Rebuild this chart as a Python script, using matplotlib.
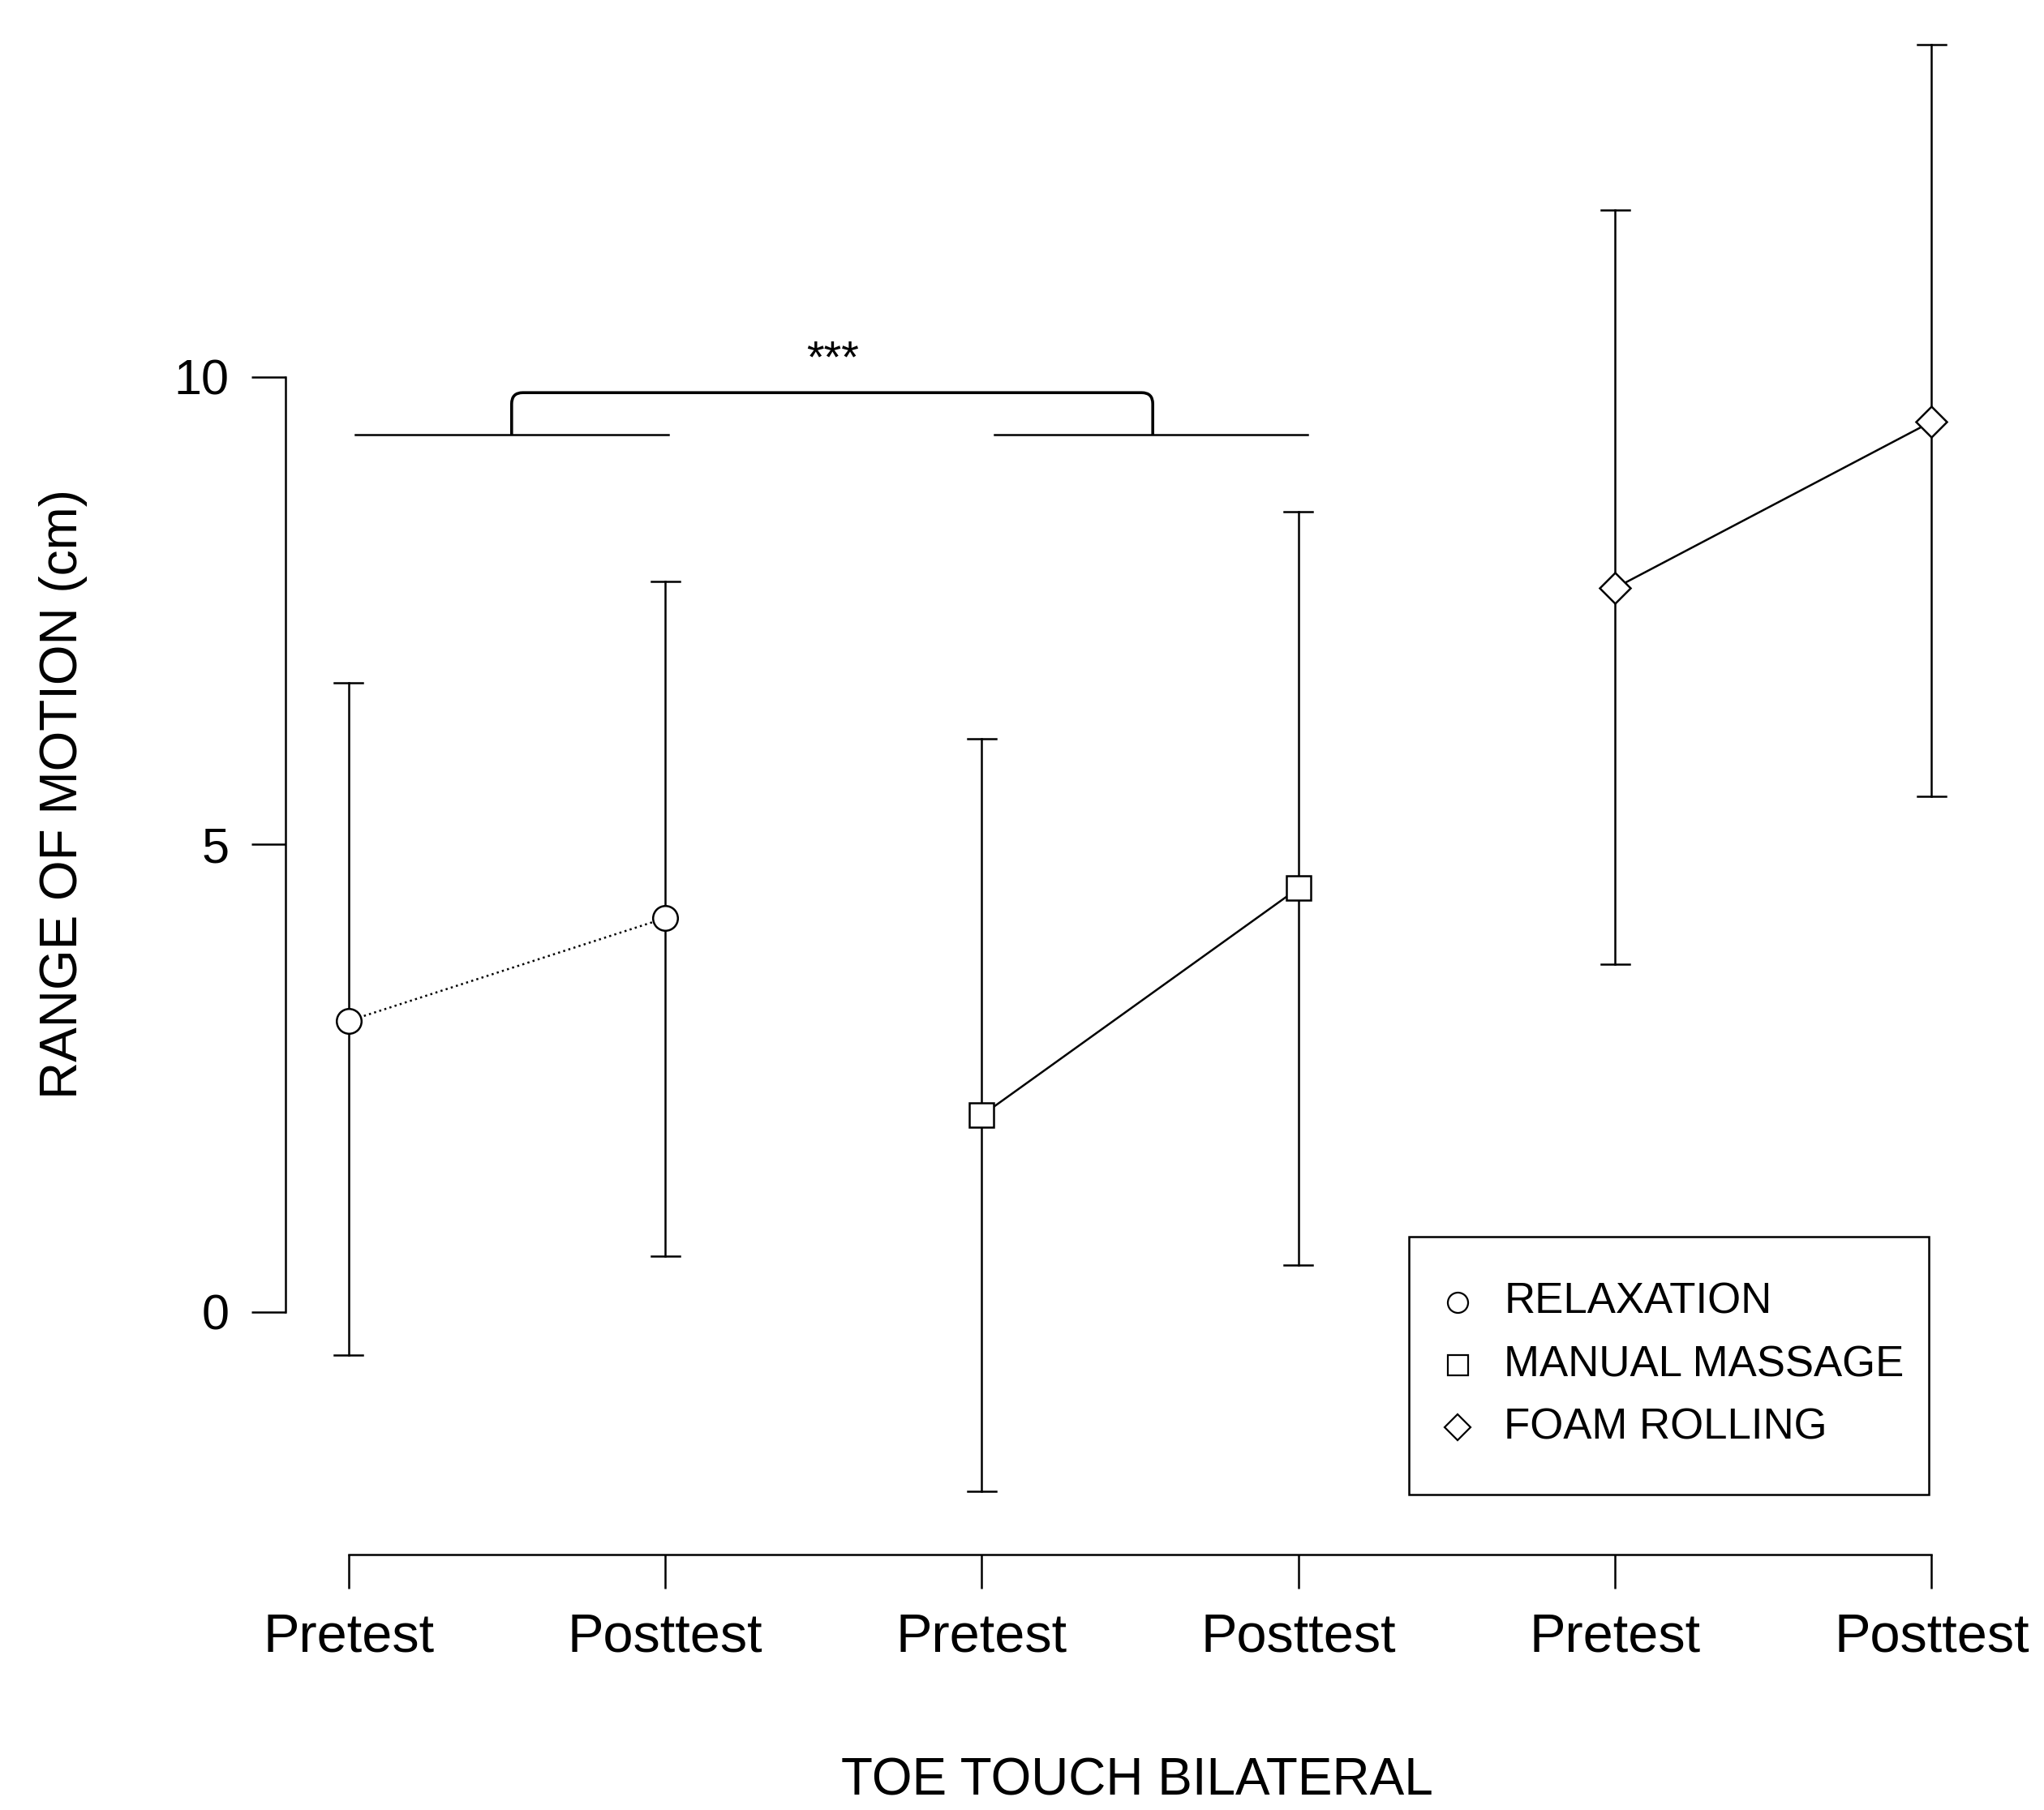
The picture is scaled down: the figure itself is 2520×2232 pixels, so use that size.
import matplotlib
matplotlib.use("Agg")
import matplotlib.pyplot as plt
from matplotlib.path import Path
from matplotlib.patches import PathPatch, Rectangle

# values
groups = ["RELAXATION", "MANUAL MASSAGE", "FOAM ROLLING"]
markers = ["o", "s", "D"]
styles = [":", "-", "-"]
pos = [[1, 2], [3, 4], [5, 6]]
means = [[3.11, 4.21], [2.10, 4.53], [7.74, 9.52]]
upper = [[6.73, 7.81], [6.13, 8.56], [11.78, 13.55]]
lower = [[-0.46, 0.59], [-1.92, 0.50], [3.72, 5.51]]
xlabels = ["Pretest", "Posttest"] * 3

plt.rcParams['font.family'] = ['Liberation Sans', 'DejaVu Sans']
fig = plt.figure(figsize=(25.2, 22.32), dpi=100)
ax = fig.add_axes([0, 0, 1, 1])
ax.set_xlim(-0.101, 6.355)
ax.set_ylim(-5.33, 14.03)
ax.patch.set_visible(False)

lw = 1.8
for g in range(3):
    for x, lo, hi in zip(pos[g], lower[g], upper[g]):
        ax.plot([x, x], [lo, hi], color="black", lw=lw)
        ax.plot([x - 0.045, x + 0.045], [hi, hi], color="black", lw=lw)
        ax.plot([x - 0.045, x + 0.045], [lo, lo], color="black", lw=lw)
    ax.plot(pos[g], means[g], color="black", lw=lw, ls=styles[g],
            marker=markers[g], ms=22 if markers[g] != "D" else 19,
            mfc="white", mec="black", mew=1.8, zorder=3)

# significance bracket
ax.plot([1.02, 2.01], [9.38, 9.38], color="black", lw=lw)
ax.plot([3.04, 4.03], [9.38, 9.38], color="black", lw=lw)
yb, yt, r = 9.38, 9.83, 0.035
xl, xr = 1.515, 3.54
verts = [(xl, yb), (xl, yt - 0.12), (xl, yt), (xl + r, yt),
         (xr - r, yt), (xr, yt), (xr, yt - 0.12), (xr, yb)]
codes = [Path.MOVETO, Path.LINETO, Path.CURVE3, Path.CURVE3,
         Path.LINETO, Path.CURVE3, Path.CURVE3, Path.LINETO]
ax.add_patch(PathPatch(Path(verts, codes), fill=False, lw=2.6, ec="black"))
ax.text(2.53, 9.95, "***", ha="center", va="bottom", fontsize=40)

# axes in R style
for s in ["top", "right"]:
    ax.spines[s].set_visible(False)
ax.spines["left"].set_position(("data", 0.801))
ax.spines["left"].set_bounds(0, 10)
ax.spines["bottom"].set_position(("data", -2.595))
ax.spines["bottom"].set_bounds(1, 6)
for s in ["left", "bottom"]:
    ax.spines[s].set_linewidth(lw)
ax.set_yticks([0, 5, 10])
ax.set_yticklabels(["0", "5", "10"])
ax.set_xticks([1, 2, 3, 4, 5, 6])
ax.set_xticklabels(xlabels)
ax.tick_params(axis="y", length=30, width=lw, pad=20, labelsize=44, labelrotation=0)
ax.tick_params(axis="x", length=30, width=lw, pad=22, labelsize=48)
ax.text(0.098, 5.54, "RANGE OF MOTION (cm)", rotation=90, ha="center",
        va="center", fontsize=46)
ax.text(3.49, -5.02, "TOE TOUCH BILATERAL", ha="center", va="center", fontsize=46)

# legend box
ax.add_patch(Rectangle((4.349, -1.96), 1.643, 2.76, fill=False, ec="black", lw=lw))
for i, (name, m) in enumerate(zip(groups, markers)):
    yy = 0.1 - i * 0.67
    ax.plot([4.503], [yy], marker=m, ms=18 if m != "D" else 16,
            mfc="white", mec="black", mew=1.6, ls="none")
    ax.text(4.65, yy, name, ha="left", va="center", fontsize=38)

fig.savefig("out.png", dpi=100)
